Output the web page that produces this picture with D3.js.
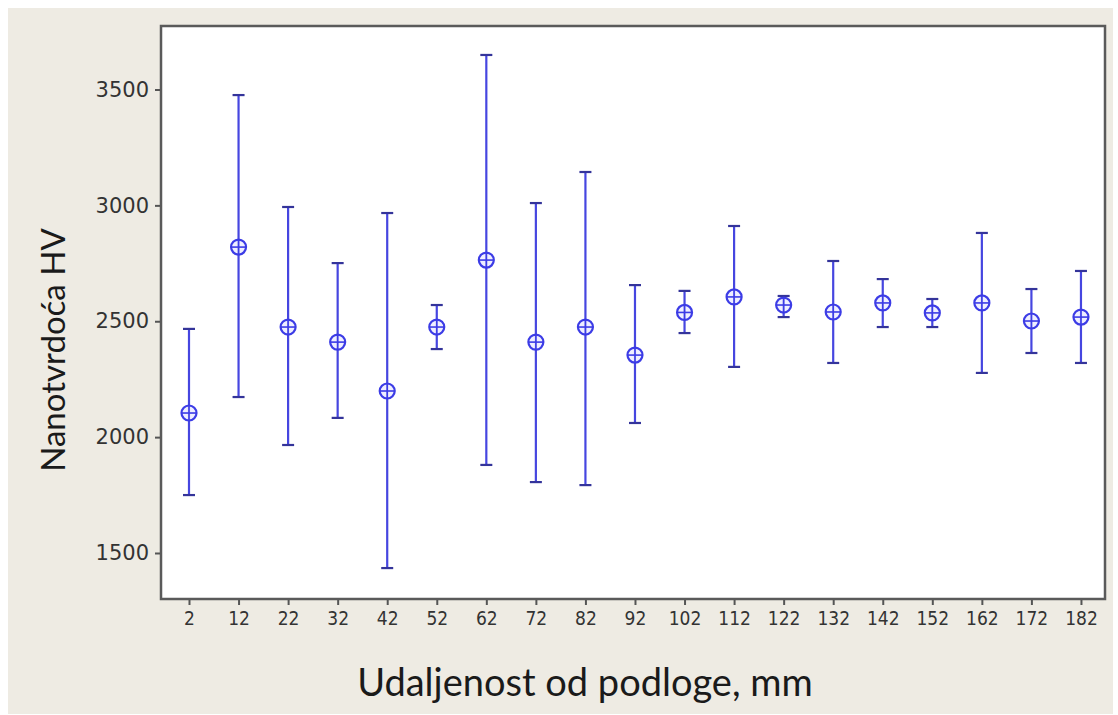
<!DOCTYPE html>
<html>
<head>
<meta charset="utf-8">
<script src="https://cdn.jsdelivr.net/npm/d3@7"></script>
<style>
  html, body { margin: 0; padding: 0; background: #ffffff; }
  svg { display: block; }
</style>
</head>
<body>
<svg id="chart" width="1118" height="715"></svg>
<script>
// ---- data ----
const distances = [2, 12, 22, 32, 42, 52, 62, 72, 82, 92, 102, 112, 122, 132, 142, 152, 162, 172, 182];
const means     = [2104, 2820, 2475, 2410, 2199, 2475, 2764, 2410, 2475, 2354, 2538, 2605, 2570, 2540, 2579, 2536, 2579, 2501, 2518];
const upper     = [2467, 3476, 2993, 2751, 2967, 2570, 3649, 3010, 3144, 2656, 2631, 2911, 2609, 2760, 2682, 2596, 2881, 2639, 2717];
const lower     = [1750, 2173, 1966, 2083, 1435, 2380, 1880, 1806, 1793, 2061, 2449, 2303, 2518, 2320, 2475, 2475, 2277, 2363, 2320];
const yTicks    = [1500, 2000, 2500, 3000, 3500];
const xTitle = "Udaljenost od podloge, mm";
const yTitle = "Nanotvrdoća HV";

const rows = distances.map((d, i) => ({ d, m: means[i], hi: upper[i], lo: lower[i] }));

const svg = d3.select("#chart");

// background panel
svg.append("rect").attr("x", 8).attr("y", 8).attr("width", 1105).attr("height", 706)
  .attr("fill", "#eeebe3");

const plot = { left: 161, top: 26, right: 1105, bottom: 599 };

const x = d3.scaleLinear().domain([-3.65, 186.85]).range([plot.left, plot.right]);
const y = d3.scaleLinear().domain([1301.5, 3774]).range([plot.bottom, plot.top]);

// plot area
svg.append("rect")
  .attr("x", plot.left).attr("y", plot.top)
  .attr("width", plot.right - plot.left).attr("height", plot.bottom - plot.top)
  .attr("fill", "#ffffff");

// axes
const yAxis = d3.axisLeft(y).tickValues(yTicks).tickSize(6).tickPadding(6).tickFormat(d3.format("d"));
const xAxis = d3.axisBottom(x).tickValues(distances).tickSize(6).tickPadding(7).tickFormat(d3.format("d"));

const gy = svg.append("g").attr("transform", `translate(${plot.left},0)`).call(yAxis);
gy.select(".domain").remove();
gy.selectAll(".tick line").attr("stroke", "#555").attr("stroke-width", 2);
gy.selectAll(".tick text").attr("fill", "#333")
  .style("font-family", "'DejaVu Sans', sans-serif").style("font-size", "21px");

const gx = svg.append("g").attr("transform", `translate(0,${plot.bottom})`).call(xAxis);
gx.select(".domain").remove();
gx.selectAll(".tick line").attr("stroke", "#555").attr("stroke-width", 2);
gx.selectAll(".tick text").attr("fill", "#333")
  .style("font-family", "'DejaVu Sans Condensed', 'DejaVu Sans', sans-serif").style("font-size", "19px");

// frame
svg.append("rect")
  .attr("x", plot.left).attr("y", plot.top)
  .attr("width", plot.right - plot.left).attr("height", plot.bottom - plot.top)
  .attr("fill", "none").attr("stroke", "#5a5a5a").attr("stroke-width", 2.5);

// error bars
const lineColor = "#4646e0";
const capColor = "#34349a";
const eg = svg.append("g");
eg.selectAll("line.bar").data(rows).join("line").attr("class", "bar")
  .attr("x1", d => x(d.d)).attr("x2", d => x(d.d))
  .attr("y1", d => y(d.hi)).attr("y2", d => y(d.lo))
  .attr("stroke", lineColor).attr("stroke-width", 2.2);
eg.selectAll("line.capHi").data(rows).join("line").attr("class", "capHi")
  .attr("x1", d => x(d.d) - 6).attr("x2", d => x(d.d) + 6)
  .attr("y1", d => y(d.hi)).attr("y2", d => y(d.hi))
  .attr("stroke", capColor).attr("stroke-width", 2.2);
eg.selectAll("line.capLo").data(rows).join("line").attr("class", "capLo")
  .attr("x1", d => x(d.d) - 6).attr("x2", d => x(d.d) + 6)
  .attr("y1", d => y(d.lo)).attr("y2", d => y(d.lo))
  .attr("stroke", capColor).attr("stroke-width", 2.2);

// markers: circle with cross
const mg = svg.append("g").selectAll("g").data(rows).join("g")
  .attr("transform", d => `translate(${x(d.d)},${y(d.m)})`);
mg.append("circle").attr("r", 7.5).attr("fill", "#e8e8ff").attr("fill-opacity", 0.7)
  .attr("stroke", "#3c3ce6").attr("stroke-width", 2.2);
mg.append("line").attr("x1", -7.5).attr("x2", 7.5).attr("y1", 0).attr("y2", 0)
  .attr("stroke", "#3c3ce6").attr("stroke-width", 1.6);
mg.append("line").attr("x1", 0).attr("x2", 0).attr("y1", -7.5).attr("y2", 7.5)
  .attr("stroke", "#3c3ce6").attr("stroke-width", 1.6);

// titles
svg.append("text").text(xTitle)
  .attr("x", 585).attr("y", 696).attr("text-anchor", "middle")
  .attr("fill", "#1a1a1a")
  .style("font-family", "Lato, 'Open Sans', sans-serif").style("font-size", "38px");

svg.append("text").text(yTitle)
  .attr("transform", "translate(65,350) rotate(-90)").attr("text-anchor", "middle")
  .attr("fill", "#1a1a1a")
  .style("font-family", "Lato, 'Open Sans', sans-serif").style("font-size", "33px");
</script>
</body>
</html>
